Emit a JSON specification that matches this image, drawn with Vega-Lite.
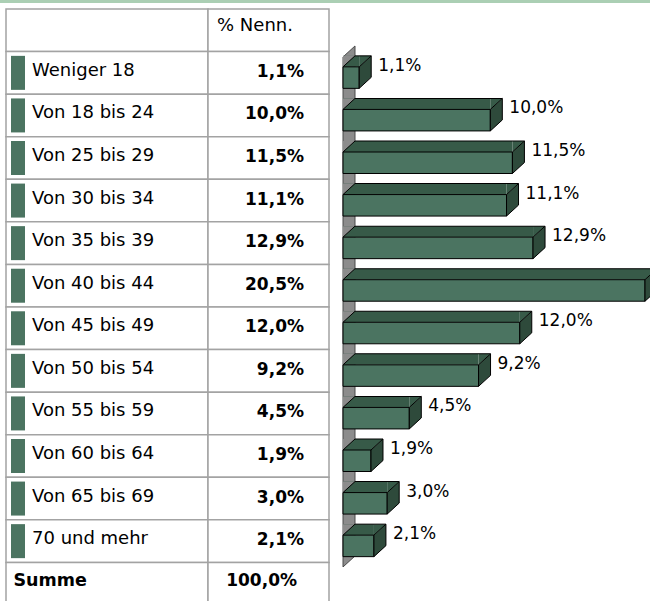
{
  "$schema": "https://vega.github.io/schema/vega-lite/v6.json",
  "padding": 0,
  "spacing": 0,
  "bounds": "flush",
  "background": "white",
  "config": {
    "view": {"stroke": null},
    "font": "DejaVu Sans",
    "locale": {"number": {"decimal": ",", "thousands": ".", "grouping": [3], "currency": ["", " €"]}}
  },
  "datasets": {
    "tabelle": [
      {"age": "% Nenn."},
      {"age": "Weniger 18", "pct": 0.011},
      {"age": "Von 18 bis 24", "pct": 0.100},
      {"age": "Von 25 bis 29", "pct": 0.115},
      {"age": "Von 30 bis 34", "pct": 0.111},
      {"age": "Von 35 bis 39", "pct": 0.129},
      {"age": "Von 40 bis 44", "pct": 0.205},
      {"age": "Von 45 bis 49", "pct": 0.120},
      {"age": "Von 50 bis 54", "pct": 0.092},
      {"age": "Von 55 bis 59", "pct": 0.045},
      {"age": "Von 60 bis 64", "pct": 0.019},
      {"age": "Von 65 bis 69", "pct": 0.030},
      {"age": "70 und mehr", "pct": 0.021},
      {"age": "Summe", "pct": 1.0}
    ]
  },
  "vconcat": [
    {
      "width": 650,
      "height": 3,
      "view": {"fill": "#abcfb4", "stroke": null},
      "data": {"values": []},
      "mark": {"type": "rect"},
      "encoding": {}
    },
    {
      "spacing": 0,
      "bounds": "flush",
      "hconcat": [
        {
          "width": 6,
          "height": 598,
          "data": {"values": []},
          "mark": {"type": "rect"},
          "encoding": {}
        },
        {
          "width": 202,
          "height": 598,
          "data": {"name": "tabelle"},
          "encoding": {
            "y": {
              "field": "age", "type": "nominal", "axis": null,
              "scale": {
                "type": "band",
                "domain": ["% Nenn.", "Weniger 18", "Von 18 bis 24", "Von 25 bis 29", "Von 30 bis 34", "Von 35 bis 39", "Von 40 bis 44", "Von 45 bis 49", "Von 50 bis 54", "Von 55 bis 59", "Von 60 bis 64", "Von 65 bis 69", "70 und mehr", "Summe"],
                "range": [6, 602], "paddingInner": 0, "paddingOuter": 0
              }
            }
          },
          "layer": [
            {
              "mark": {"type": "rect", "fill": "white", "stroke": "#a3a3a3", "strokeWidth": 1.5}
            },
            {
              "transform": [{"filter": {"not": {"field": "age", "oneOf": ["% Nenn.", "Summe"]}}}],
              "mark": {"type": "point", "shape": "M-7,-17L7,-17L7,17L-7,17Z", "size": 4, "filled": true, "fill": "#4b7461", "strokeWidth": 0, "opacity": 1},
              "encoding": {
                "x": {"datum": 12, "type": "quantitative", "axis": null, "scale": {"domain": [0, 202], "range": [0, 202], "zero": false, "nice": false}}
              }
            },
            {
              "transform": [{"filter": {"not": {"field": "age", "oneOf": ["% Nenn.", "Summe"]}}}],
              "mark": {"type": "text", "align": "left", "baseline": "alphabetic", "dy": 3, "fontSize": 18, "color": "black"},
              "encoding": {
                "x": {"datum": 26, "type": "quantitative"},
                "text": {"field": "age", "type": "nominal"}
              }
            },
            {
              "transform": [{"filter": {"field": "age", "equal": "Summe"}}],
              "mark": {"type": "text", "align": "left", "baseline": "alphabetic", "dy": 2, "fontSize": 17.5, "fontWeight": "bold", "color": "black"},
              "encoding": {
                "x": {"datum": 7.5, "type": "quantitative"},
                "text": {"field": "age", "type": "nominal"}
              }
            }
          ]
        },
        {
          "width": 121,
          "height": 598,
          "data": {"name": "tabelle"},
          "encoding": {
            "y": {
              "field": "age", "type": "nominal", "axis": null,
              "scale": {
                "type": "band",
                "domain": ["% Nenn.", "Weniger 18", "Von 18 bis 24", "Von 25 bis 29", "Von 30 bis 34", "Von 35 bis 39", "Von 40 bis 44", "Von 45 bis 49", "Von 50 bis 54", "Von 55 bis 59", "Von 60 bis 64", "Von 65 bis 69", "70 und mehr", "Summe"],
                "range": [6, 602], "paddingInner": 0, "paddingOuter": 0
              }
            }
          },
          "layer": [
            {
              "mark": {"type": "rect", "fill": "white", "stroke": "#a3a3a3", "strokeWidth": 1.5}
            },
            {
              "transform": [{"filter": {"not": {"field": "age", "oneOf": ["% Nenn.", "Summe"]}}}],
              "mark": {"type": "text", "align": "right", "baseline": "alphabetic", "dy": 4, "fontSize": 17, "fontWeight": "bold", "color": "black"},
              "encoding": {
                "x": {"datum": 96, "type": "quantitative", "axis": null, "scale": {"domain": [0, 121], "range": [0, 121], "zero": false, "nice": false}},
                "text": {"field": "pct", "type": "quantitative", "format": ".1%"}
              }
            },
            {
              "transform": [{"filter": {"field": "age", "equal": "% Nenn."}}],
              "mark": {"type": "text", "align": "center", "baseline": "alphabetic", "dy": 1, "fontSize": 18, "color": "black"},
              "encoding": {
                "x": {"datum": 47, "type": "quantitative"},
                "text": {"field": "age", "type": "nominal"}
              }
            },
            {
              "transform": [{"filter": {"field": "age", "equal": "Summe"}}],
              "mark": {"type": "text", "align": "right", "baseline": "alphabetic", "dy": 2, "fontSize": 17, "fontWeight": "bold", "color": "black"},
              "encoding": {
                "x": {"datum": 89, "type": "quantitative"},
                "text": {"field": "pct", "type": "quantitative", "format": ".1%"}
              }
            }
          ]
        },
        {
          "width": 321,
          "height": 598,
          "data": {"name": "tabelle"},
          "transform": [{"filter": {"not": {"field": "age", "oneOf": ["% Nenn.", "Summe"]}}}],
          "encoding": {
            "y": {
              "field": "age", "type": "nominal", "axis": null,
              "scale": {
                "type": "band",
                "domain": ["% Nenn.", "Weniger 18", "Von 18 bis 24", "Von 25 bis 29", "Von 30 bis 34", "Von 35 bis 39", "Von 40 bis 44", "Von 45 bis 49", "Von 50 bis 54", "Von 55 bis 59", "Von 60 bis 64", "Von 65 bis 69", "70 und mehr", "Summe"],
                "range": [6, 602], "paddingInner": 0, "paddingOuter": 0
              }
            }
          },
          "layer": [
            {
              "transform": [{"filter": {"field": "age", "equal": "Weniger 18"}}],
              "mark": {"type": "point", "shape": "M0,-15.9L12,-26.9L12,483.1L0,494.1Z", "size": 4, "filled": true, "fill": "#8c8c8c", "stroke": "#4a4a4a", "strokeWidth": 1, "opacity": 1},
              "encoding": {
                "x": {"datum": 0, "type": "quantitative", "axis": null, "scale": {"domain": [0, 0.205], "range": [14, 316], "zero": true, "nice": false}}
              }
            },
            {
              "mark": {"type": "bar", "fill": "#375a48", "height": 11, "yOffset": -11.5},
              "encoding": {
                "x": {"field": "pct", "type": "quantitative"}
              }
            },
            {
              "mark": {"type": "point", "shape": "M0,-6L12,-17L0,-17Z", "size": 4, "filled": true, "fill": "#375a48", "strokeWidth": 0, "opacity": 1},
              "encoding": {
                "x": {"field": "pct", "type": "quantitative"}
              }
            },
            {
              "mark": {"type": "point", "shape": "M0,-6L0,-17L12,-17Z", "size": 4, "filled": true, "fill": "#8c8c8c", "strokeWidth": 0, "opacity": 1},
              "encoding": {
                "x": {"datum": 0, "type": "quantitative"}
              }
            },
            {
              "mark": {"type": "point", "shape": "M0,-6L12,-17", "size": 4, "filled": false, "stroke": "black", "strokeWidth": 1, "opacity": 1},
              "encoding": {
                "x": {"datum": 0, "type": "quantitative"}
              }
            },
            {
              "mark": {"type": "bar", "fill": "black", "height": 1, "yOffset": -17, "xOffset": 12, "x2Offset": 12},
              "encoding": {
                "x": {"field": "pct", "type": "quantitative"}
              }
            },
            {
              "mark": {"type": "bar", "fill": "#4b7461", "stroke": "black", "strokeWidth": 1, "height": 21.5, "yOffset": 4.75},
              "encoding": {
                "x": {"field": "pct", "type": "quantitative"}
              }
            },
            {
              "mark": {"type": "point", "shape": "M0,-6L12,-17L12,4.5L0,15.5Z", "size": 4, "filled": true, "fill": "#2e4a3b", "stroke": "black", "strokeWidth": 1, "opacity": 1},
              "encoding": {
                "x": {"field": "pct", "type": "quantitative"}
              }
            },
            {
              "transform": [{"filter": "datum.pct < 0.2"}],
              "mark": {"type": "text", "align": "left", "baseline": "alphabetic", "dx": 19, "dy": -2, "fontSize": 17, "color": "black"},
              "encoding": {
                "x": {"field": "pct", "type": "quantitative"},
                "text": {"field": "pct", "type": "quantitative", "format": ".1%"}
              }
            }
          ]
        }
      ]
    }
  ]
}
